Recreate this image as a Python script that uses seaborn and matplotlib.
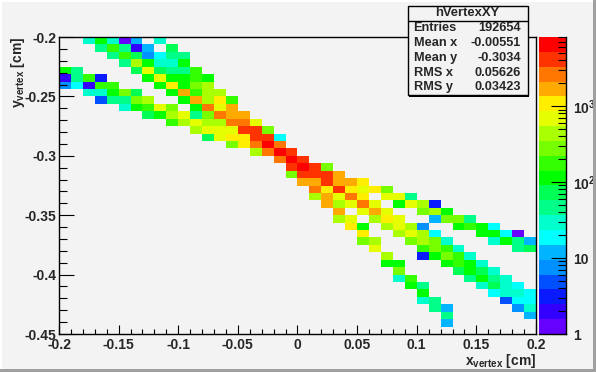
import numpy as np
import matplotlib
matplotlib.use("Agg")
import matplotlib.pyplot as plt
from matplotlib.colors import ListedColormap, LogNorm
from matplotlib.patches import Rectangle
from matplotlib.ticker import LogLocator, FixedLocator, NullFormatter
import seaborn as sns

# bin edges
x_range = [-0.2, 0.2]
y_range = [-0.2, -0.45]
n_bins = 40
z_range = [1, 8100]

# counts, one dict per y bin (top to bottom): {x bin: count}
hist_rows = [
    {2: 29, 3: 111, 4: 29, 5: 1, 6: 12, 8: 29},
    {3: 45, 4: 173, 5: 45, 6: 2, 7: 12, 9: 71},
    {4: 45, 5: 173, 6: 71, 7: 8, 8: 18, 9: 45, 10: 45},
    {5: 45, 6: 426, 7: 111, 8: 29, 9: 29, 10: 111},
    {0: 111, 1: 45, 6: 71, 7: 666, 8: 71, 9: 45, 10: 45, 11: 173},
    {0: 2, 1: 45, 2: 173, 3: 3, 7: 111, 8: 666, 9: 111, 10: 111, 11: 173, 12: 111},
    {0: 8, 1: 18, 2: 2, 3: 173, 4: 173, 8: 111, 9: 1043, 10: 111, 11: 272, 12: 426},
    {2: 29, 3: 29, 4: 111, 5: 272, 6: 71, 9: 111, 10: 1632, 11: 173, 12: 426, 13: 426},
    {3: 5, 4: 45, 5: 45, 6: 272, 7: 426, 10: 111, 11: 1632, 12: 426, 13: 1043, 14: 173},
    {5: 29, 6: 111, 7: 173, 8: 666, 9: 272, 11: 111, 12: 2555, 13: 666, 14: 1632},
    {7: 71, 8: 111, 9: 426, 10: 666, 11: 45, 12: 272, 13: 2555, 14: 1632, 15: 1632},
    {9: 173, 10: 426, 11: 666, 12: 426, 13: 426, 14: 2555, 15: 2555, 16: 666},
    {11: 426, 12: 666, 13: 666, 14: 666, 15: 4000, 16: 4000, 17: 272},
    {12: 71, 13: 666, 14: 1043, 15: 1043, 16: 4000, 17: 4000, 18: 18},
    {14: 272, 15: 1043, 16: 2555, 17: 6260, 18: 2555},
    {16: 426, 17: 2555, 18: 6260, 19: 4000},
    {18: 2555, 19: 6260, 20: 4000},
    {19: 4000, 20: 6260, 21: 4000, 22: 272},
    {19: 272, 20: 4000, 21: 4000, 22: 4000, 23: 1632},
    {20: 1632, 21: 1632, 22: 4000, 23: 1632, 24: 1632, 25: 1043},
    {21: 2555, 22: 1043, 23: 4000, 24: 1043, 25: 666, 26: 1043, 27: 272},
    {21: 426, 22: 1632, 23: 666, 24: 2555, 25: 1043, 27: 666, 28: 666, 29: 45},
    {22: 1632, 23: 426, 24: 666, 25: 2555, 26: 666, 28: 111, 29: 666, 30: 426, 31: 3},
    {23: 1632, 25: 666, 26: 1632, 27: 666, 30: 272, 31: 426, 32: 111},
    {23: 426, 24: 666, 26: 426, 27: 1043, 28: 666, 31: 12, 32: 272, 33: 272, 34: 45},
    {24: 1043, 25: 111, 27: 426, 28: 666, 29: 426, 30: 8, 33: 111, 34: 173, 35: 111, 36: 18},
    {25: 1043, 28: 426, 29: 666, 30: 426, 31: 18, 35: 111, 36: 111, 37: 18, 38: 1},
    {25: 272, 26: 426, 29: 272, 30: 426, 31: 272, 32: 29, 36: 29, 37: 111, 38: 45, 39: 12},
    {26: 666, 30: 173, 31: 272, 32: 173, 33: 29, 38: 45, 39: 71},
    {27: 426, 30: 3, 31: 111, 32: 272, 33: 173, 34: 29},
    {27: 111, 28: 111, 32: 111, 33: 173, 34: 111, 35: 29},
    {28: 272, 33: 71, 34: 111, 35: 71, 36: 29},
    {28: 29, 29: 173, 34: 45, 35: 111, 36: 45, 37: 29},
    {29: 111, 30: 45, 35: 29, 36: 71, 37: 29, 38: 18},
    {30: 111, 36: 18, 37: 29, 38: 29, 39: 18},
    {30: 29, 31: 45, 37: 5, 38: 18, 39: 18},
    {31: 45, 32: 12, 38: 8, 39: 29},
    {32: 45, 39: 12},
    {32: 12},
    {},
]

palette = ["#6600ff", "#3300ff", "#0a1aff", "#0050ff", "#0090ff", "#00b4ff", "#00ffff",
           "#00ffcc", "#00ff88", "#00ff55", "#00ff00", "#33ff00", "#77ff00", "#aaff00",
           "#e5ff00", "#ffee00", "#ffaa00", "#ff7700", "#ff3300", "#ff0000"]

x_ticks = [-0.2, -0.15, -0.1, -0.05, 0, 0.05, 0.1, 0.15, 0.2]
x_ticklabels = ["-0.2", "-0.15", "-0.1", "-0.05", "0", "0.05", "0.1", "0.15", "0.2"]
y_ticks = [-0.2, -0.25, -0.3, -0.35, -0.4, -0.45]
y_ticklabels = ["-0.2", "-0.25", "-0.3", "-0.35", "-0.4", "-0.45"]
z_ticks = [1, 10, 100, 1000]
z_ticklabels = ["1", "10", r"10$^{2}$", r"10$^{3}$"]

stats_names = ["Entries", "Mean x", "Mean y", "RMS x", "RMS y"]
stats_values = ["192654", "-0.00551", "-0.3034", "0.05626", "0.03423"]

BG = "#f3f3f3"

sns.set_style("white")
plt.rcParams["font.family"] = ["Liberation Sans", "DejaVu Sans"]
plt.rcParams["font.weight"] = "bold"
plt.rcParams["mathtext.fontset"] = "custom"
plt.rcParams["mathtext.bf"] = "Liberation Sans:bold"
plt.rcParams["mathtext.rm"] = "Liberation Sans:bold"
plt.rcParams["mathtext.default"] = "bf"

W, H = 596, 372
fig = plt.figure(figsize=(W / 100, H / 100), dpi=100, facecolor=BG)


def px_axes(x0, y0, x1, y1):
    return fig.add_axes([x0 / W, 1 - y1 / H, (x1 - x0) / W, (y1 - y0) / H])


ax = px_axes(59, 37, 536, 334)
cax = px_axes(539, 37, 566, 334)

grid = np.zeros((n_bins, n_bins))
for j, row in enumerate(hist_rows):
    for i, n in row.items():
        grid[j, i] = n

sns.heatmap(grid, mask=grid == 0, ax=ax, cbar_ax=cax, cmap=ListedColormap(palette),
            norm=LogNorm(z_range[0], z_range[1]), xticklabels=False, yticklabels=False)
ax.set_facecolor(BG)
ax.set_axisbelow(False)
cax.set_axisbelow(False)


# data value -> heatmap bin position
def x_pos(v):
    return (np.asarray(v) - x_range[0]) / (x_range[1] - x_range[0]) * n_bins


def y_pos(v):
    return (np.asarray(v) - y_range[0]) / (y_range[1] - y_range[0]) * n_bins


ax.set_xticks(x_pos(x_ticks))
ax.set_xticklabels(x_ticklabels, rotation=0, fontsize=10, fontweight="bold")
ax.set_yticks(y_pos(y_ticks))
ax.set_yticklabels(y_ticklabels, rotation=0, fontsize=10, fontweight="bold")
ax.set_xticks(x_pos(np.arange(-0.2, 0.2001, 0.01)), minor=True)
ax.set_yticks(y_pos(np.arange(-0.45, -0.1999, 0.01)), minor=True)
ax.tick_params(axis="x", which="major", direction="in", length=6.5, width=0.8, color="black", bottom=True, pad=3)
ax.tick_params(axis="x", which="minor", direction="in", length=3.3, width=0.8, color="black", bottom=True)
ax.tick_params(axis="y", which="major", direction="in", length=11, width=0.8, color="black", left=True, pad=2)
ax.tick_params(axis="y", which="minor", direction="in", length=5.5, width=0.8, color="black", left=True)
for s in ax.spines.values():
    s.set_visible(True)
    s.set_linewidth(1)
    s.set_color("black")

# colour scale
cax.yaxis.set_major_locator(FixedLocator(z_ticks))
cax.yaxis.set_minor_locator(LogLocator(base=10, subs=range(2, 10)))
cax.yaxis.set_minor_formatter(NullFormatter())
cax.set_yticklabels(z_ticklabels, fontsize=10, fontweight="bold")
cax.yaxis.tick_right()
cax.tick_params(axis="y", which="major", direction="in", length=11, width=0.8, color="black", right=True, pad=5)
cax.tick_params(axis="y", which="minor", direction="in", length=5.5, width=0.8, color="black", right=True)
cax.spines["right"].set_visible(True)
cax.spines["right"].set_linewidth(1)
cax.spines["right"].set_color("black")
cax.spines["bottom"].set_visible(True)
cax.spines["bottom"].set_linewidth(1)
cax.spines["bottom"].set_color("black")

# overlay in pixel coordinates for canvas frame, stats box, axis titles
ov = fig.add_axes([0, 0, 1, 1], zorder=5)
ov.set_xlim(0, W)
ov.set_ylim(H, 0)
ov.axis("off")

ov.add_patch(Rectangle((0, 0), W, 2, color="white", lw=0))
ov.add_patch(Rectangle((0, 0), 2, H, color="white", lw=0))
ov.add_patch(Rectangle((0, H - 3), W, 3, color="#a0a0a0", lw=0))
ov.add_patch(Rectangle((W - 3, 0), 3, H, color="#a0a0a0", lw=0))

ov.text(536, 361, r"x$_{vertex}$ [cm]", ha="right", va="center", fontsize=10)
ov.text(18, 37, r"y$_{vertex}$ [cm]", ha="center", va="top", rotation=90, fontsize=10)

ov.add_patch(Rectangle((409, 8), 120, 89, fc="black", ec="black", lw=0))
ov.add_patch(Rectangle((407.5, 6), 120, 89, fc=BG, ec="black", lw=1))
ov.plot([407.5, 527.5], [20.5, 20.5], color="black", lw=1)
ov.text(467, 13, "hVertexXY", ha="center", va="center", fontsize=9.4)
for k in range(len(stats_names)):
    yy = 27.8 + k * 14.9
    ov.text(413.5, yy, stats_names[k], ha="left", va="center", fontsize=9.2)
    ov.text(521, yy, stats_values[k], ha="right", va="center", fontsize=9.2)

fig.savefig("out.png", dpi=100, facecolor=BG)
